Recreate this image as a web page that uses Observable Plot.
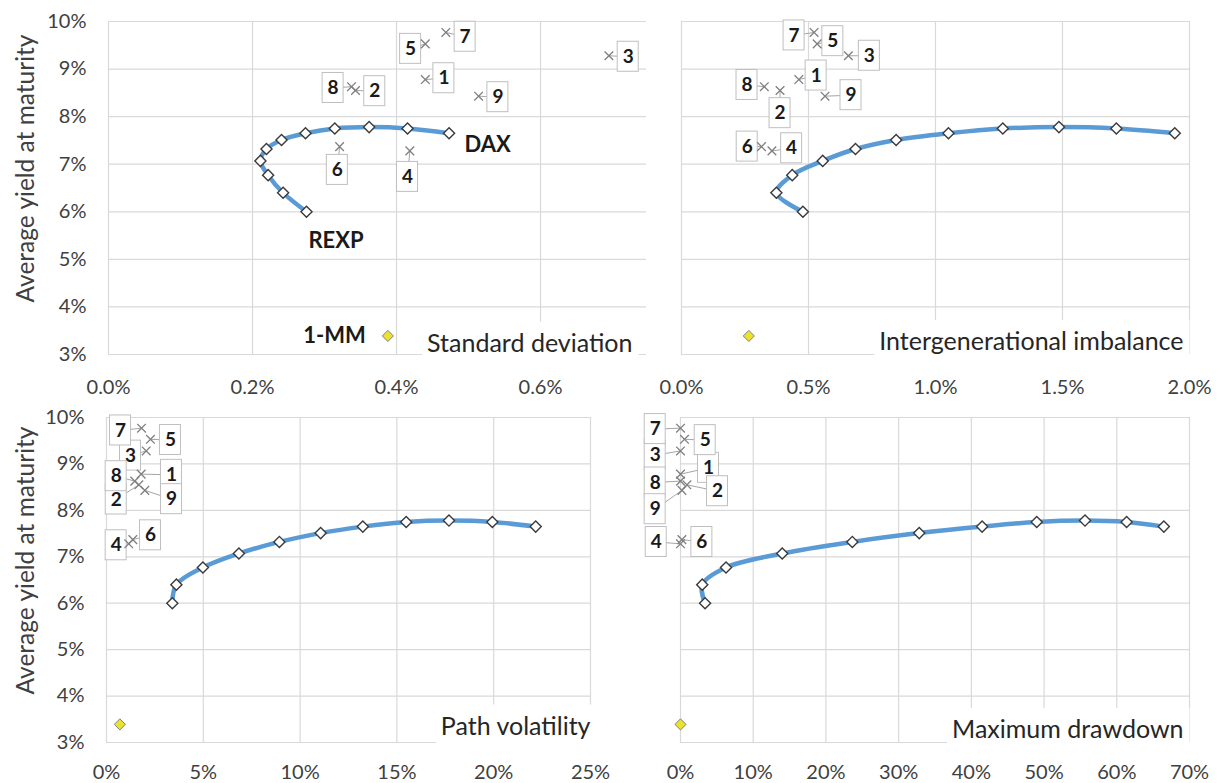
<!DOCTYPE html>
<html><head><meta charset="utf-8">
<script src="https://cdn.jsdelivr.net/npm/d3@7"></script>
<script src="https://cdn.jsdelivr.net/npm/@observablehq/plot@0.6"></script>
<style>
body{margin:0;background:#fff;}
#chart{position:relative;width:1218px;height:783px;background:#fff;font-family:Lato,"Open Sans",sans-serif;overflow:hidden;}
#chart > svg{position:absolute;}
</style></head><body><div id="chart"></div>
<script>
// ---- data ----
const frontierYield     = [6.00, 6.40, 6.77, 7.07, 7.32, 7.51, 7.65, 7.75, 7.78, 7.75, 7.65];
const frontierStdDev    = [0.275, 0.2425, 0.2217, 0.211, 0.2194, 0.2403, 0.2736, 0.3143, 0.362, 0.4153, 0.473];
const frontierImbalance = [0.478, 0.3735, 0.436, 0.556, 0.685, 0.845, 1.051, 1.265, 1.486, 1.712, 1.942];
const frontierPathVol   = [3.40, 3.61, 4.98, 6.84, 8.93, 11.06, 13.24, 15.48, 17.69, 19.93, 22.17];
const frontierDrawdown  = [3.38, 2.99, 6.26, 13.99, 23.63, 32.83, 41.48, 48.99, 55.63, 61.35, 66.47];

const portfolioIds        = ["1", "2", "3", "4", "5", "6", "7", "8", "9"];
const portfolioYield      = [8.78, 8.55, 9.28, 7.28, 9.53, 7.37, 9.77, 8.63, 8.43];
const portfolioStdDev     = [0.440, 0.343, 0.695, 0.4185, 0.440, 0.321, 0.4685, 0.3375, 0.514];
const portfolioImbalance  = [0.462, 0.388, 0.657, 0.356, 0.534, 0.315, 0.522, 0.326, 0.565];
const portfolioPathVol    = [1.79, 1.67, 2.05, 1.15, 2.27, 1.36, 1.81, 1.46, 1.98];
const portfolioDrawdown   = [0.0, 0.88, 0.0, 0.0, 0.55, 0.19, 0.0, 0.0, 0.2];

const moneyMarketName  = "1-MM";
const moneyMarketYield = 3.39;
const moneyMarketRisk  = [0.388, 0.265, 0.69, 0.0]; // std dev, imbalance, path vol, drawdown

const seriesStartLabel = "REXP";
const seriesEndLabel   = "DAX";

const yTicks         = [3, 4, 5, 6, 7, 8, 9, 10];
const stdDevTicks    = [0, 0.2, 0.4, 0.6];
const imbalanceTicks = [0, 0.5, 1.0, 1.5, 2.0];
const pathVolTicks   = [0, 5, 10, 15, 20, 25];
const drawdownTicks  = [0, 10, 20, 30, 40, 50, 60, 70];

const panelTitles = ["Standard deviation", "Intergenerational imbalance", "Path volatility", "Maximum drawdown"];
const yAxisTitle  = "Average yield at maturity";

// ---- layout / style (pixels) ----
const BOX_W = 21, BOX_H = 30;
const panels = [
  {frontierX: frontierStdDev, portX: portfolioStdDev, mm: moneyMarketRisk[0], title: panelTitles[0],
   left: 0, top: 0, width: 650, height: 400, mL: 108, mR: 4, mT: 21, mB: 46,
   xDomain: [0, 0.7472], xTicks: stdDevTicks, fmt: d => d.toFixed(1) + "%", tickPad: 25, yLabels: true,
   titleDx: -14, titleDy: -11, seriesLabels: true,
   offsets: [[18.6,-1.3],[19.3,0.7],[19.3,1],[-2.3,26],[-14.7,5],[-2.3,23.3],[19.3,4.3],[-18.4,1.3],[19.3,1]]},
  {frontierX: frontierImbalance, portX: portfolioImbalance, mm: moneyMarketRisk[1], title: panelTitles[1],
   left: 650, top: 0, width: 568, height: 400, mL: 31, mR: 29, mT: 21, mB: 46,
   xDomain: [0, 2.0], xTicks: imbalanceTicks, fmt: d => d.toFixed(1) + "%", tickPad: 25, yLabels: false,
   titleDx: -6, titleDy: -12.5,
   offsets: [[17.3,-4],[0,22.7],[21,0],[19.7,-2.6],[15.7,-2.7],[-14.3,0],[-20,3],[-17.3,-1.7],[26,-1]]},
  {frontierX: frontierPathVol, portX: portfolioPathVol, mm: moneyMarketRisk[2], title: panelTitles[2],
   left: 0, top: 400, width: 650, height: 383, mL: 106, mR: 60, mT: 17, mB: 41,
   xDomain: [0, 25], xTicks: pathVolTicks, fmt: d => d + "%", tickPad: 22, yLabels: true,
   titleDx: 0, titleDy: -16,
   offsets: [[30.3,0.7],[-22.6,14.7],[-15.7,4.7],[-12.6,1.5],[20,0.7],[17.7,-4.3],[-21,2.3],[-18.6,-4.9],[26.7,8.8]]},
  {frontierX: frontierDrawdown, portX: portfolioDrawdown, mm: moneyMarketRisk[3], title: panelTitles[3],
   left: 650, top: 400, width: 568, height: 383, mL: 30, mR: 29, mT: 17, mB: 41,
   xDomain: [0, 70], xTicks: drawdownTicks, fmt: d => d + "%", tickPad: 22, yLabels: false,
   titleDx: -6, titleDy: -12.5,
   offsets: [[28,-6.3],[30.6,6.4],[-25.3,4.2],[-24.3,-1.8],[20.7,0.8],[20,2.4],[-25.3,0.9],[-25.3,1.4],[-26.8,18.8]]}
];

const GRID = "#d9d9d9", TXT = "#404040", DARK = "#1a1a1a";
const chart = document.getElementById("chart");

for (const p of panels) {
  const plotW = p.width - p.mL - p.mR;
  const plotH = p.height - p.mT - p.mB;
  const kx = plotW / (p.xDomain[1] - p.xDomain[0]);
  const ky = plotH / (yTicks[yTicks.length - 1] - yTicks[0]);

  const frontier = frontierYield.map((y, i) => ({x: p.frontierX[i], y}));
  const ports = portfolioIds.map((id, i) => {
    const x = p.portX[i], y = portfolioYield[i];
    const [dx, dy] = p.offsets[i];
    const lx = x + dx / kx, ly = y - dy / ky;
    return {id, x, y, lx, ly,
      x1: lx - BOX_W / 2 / kx, x2: lx + BOX_W / 2 / kx,
      y1: ly - BOX_H / 2 / ky, y2: ly + BOX_H / 2 / ky};
  });
  const mm = [{x: p.mm, y: moneyMarketYield, name: moneyMarketName}];

  const marks = [
    Plot.ruleY(yTicks, {stroke: GRID, strokeWidth: 1.2}),
    Plot.ruleX(p.xTicks, {stroke: GRID, strokeWidth: 1.2}),
    Plot.link(ports, {x1: "x", y1: "y", x2: "lx", y2: "ly", stroke: "#a6a6a6", strokeWidth: 1}),
    Plot.rect(ports, {x1: "x1", x2: "x2", y1: "y1", y2: "y2", fill: "white", stroke: "#bfbfbf", strokeWidth: 1}),
    Plot.text(ports, {x: "lx", y: "ly", text: "id", fontWeight: "bold", fontSize: 19, fill: DARK}),
    Plot.dot(ports, {x: "x", y: "y", symbol: "times", r: 4, stroke: "#7f7f7f", strokeWidth: 1.3}),
    Plot.line(frontier, {x: "x", y: "y", curve: "catmull-rom", stroke: "#5b9bd5", strokeWidth: 4.5}),
    Plot.dot(frontier, {x: "x", y: "y", symbol: "diamond2", r: 5, fill: "white", stroke: "#3a3a3a", strokeWidth: 1.4}),
    Plot.dot(mm, {x: "x", y: "y", symbol: "diamond2", r: 5, fill: "#ece12e", stroke: "#808080", strokeWidth: 1}),
    Plot.text([p.title], {text: d => d, frameAnchor: "bottom-right", textAnchor: "end", lineAnchor: "middle",
      dx: p.titleDx, dy: p.titleDy, fontSize: 25, fill: "#262626"})
  ];
  if (p.yLabels) {
    marks.push(Plot.text([yAxisTitle], {text: d => d, frameAnchor: "left", rotate: -90, textAnchor: "middle",
      lineAnchor: "middle", dx: 26 - p.mL, dy: -19.5, fontSize: 24.5, fill: TXT}));
  }
  if (p.seriesLabels) {
    marks.push(Plot.text([frontier[0]], {x: "x", y: "y", text: () => seriesStartLabel, dx: 29.5, dy: 29,
      fontWeight: "bold", fontSize: 22, fill: DARK}));
    marks.push(Plot.text([frontier[frontier.length - 1]], {x: "x", y: "y", text: () => seriesEndLabel, dx: 38.5, dy: 11.7,
      fontWeight: "bold", fontSize: 22, fill: DARK}));
    marks.push(Plot.text(mm, {x: "x", y: "y", text: "name", dx: -22, textAnchor: "end",
      fontWeight: "bold", fontSize: 22, fill: DARK}));
  }

  const svg = Plot.plot({
    width: p.width, height: p.height,
    marginLeft: p.mL, marginRight: p.mR, marginTop: p.mT, marginBottom: p.mB,
    style: {fontFamily: "Lato, 'Open Sans', sans-serif", fontSize: "20px", color: TXT, background: "transparent", overflow: "visible"},
    x: {domain: p.xDomain, ticks: p.xTicks, tickFormat: p.fmt, tickSize: 0, tickPadding: p.tickPad, label: null},
    y: p.yLabels
      ? {domain: [3, 10], ticks: yTicks, tickFormat: d => d + "%", tickSize: 0, tickPadding: 22, label: null}
      : {domain: [3, 10], axis: null},
    marks
  });
  svg.style.left = p.left + "px";
  svg.style.top = p.top + "px";
  chart.appendChild(svg);

  // white box behind the measure title (covers gridlines like the original)
  const t = Array.from(svg.querySelectorAll("text")).find(e => e.textContent === p.title);
  if (t) {
    const sb = svg.getBoundingClientRect(), tb = t.getBoundingClientRect();
    let g = t; while (g.parentNode !== svg) g = g.parentNode;
    const r = document.createElementNS("http://www.w3.org/2000/svg", "rect");
    const y0 = tb.top - sb.top - 5;
    r.setAttribute("x", tb.left - sb.left - 5);
    r.setAttribute("y", y0);
    r.setAttribute("width", tb.width + 11);
    r.setAttribute("height", (p.height - p.mB + 2) - y0);
    r.setAttribute("fill", "white");
    svg.insertBefore(r, g);
  }
}
</script></body></html>
